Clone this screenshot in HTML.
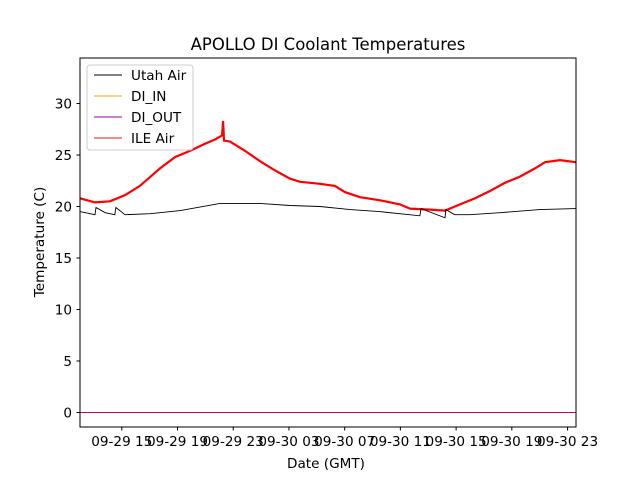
<!DOCTYPE html>
<html><head><meta charset="utf-8"><style>
body{margin:0;background:#fff}
svg{font-family:"DejaVu Sans","Liberation Sans",sans-serif}
</style></head><body>
<svg id="c" width="640" height="480">
<rect width="640" height="480" fill="#fff"/>
<text x="328" y="50" text-anchor="middle" font-size="16.5">APOLLO DI Coolant Temperatures</text>
<g id="plot"></g>
<rect x="80" y="58" width="496" height="369" fill="none" stroke="#000" stroke-width="1"/>
<g id="ticks"></g>
<text x="326" y="468" text-anchor="middle" font-size="13.6">Date (GMT)</text>
<text transform="translate(44,242) rotate(-90)" text-anchor="middle" font-size="13.6">Temperature (C)</text>
<g>
<rect x="87" y="65" width="106" height="85" rx="3" fill="#fff" fill-opacity="0.8" stroke="#ccc"/>
<line x1="94" y1="75" x2="122" y2="75" stroke="#000" stroke-width="1"/>
<text x="131" y="80" font-size="13.6">Utah Air</text>
<line x1="94" y1="96" x2="122" y2="96" stroke="#ffa500" stroke-width="1"/>
<text x="131" y="101" font-size="13.6">DI_IN</text>
<line x1="94" y1="117" x2="122" y2="117" stroke="#9400a0" stroke-width="1"/>
<text x="131" y="122" font-size="13.6">DI_OUT</text>
<line x1="94" y1="138" x2="122" y2="138" stroke="#ee1111" stroke-width="1"/>
<text x="131" y="143" font-size="13.6">ILE Air</text>
</g>
</svg>
<script>
const utahHours=[12.0,13.08,13.15,13.8,14.5,14.58,15.23,17.03,19.2,22.05,23.13,24.9,27.08,29.23,31.4,33.5,36.4,36.48,38.2,38.27,38.9,40.0,42.15,45.0,47.6];
const utahValues=[19.5,19.2,19.9,19.4,19.2,19.9,19.2,19.3,19.6,20.3,20.3,20.3,20.1,20.0,19.7,19.5,19.1,19.8,18.9,19.7,19.2,19.2,19.4,19.7,19.8];
const redHours=[12.0,13.08,14.15,15.23,16.3,17.74,18.82,19.9,20.97,21.7,22.2,22.27,22.34,22.77,23.85,24.92,26.0,27.08,27.8,29.23,30.3,31.02,32.1,33.54,34.97,35.69,37.13,38.2,39.28,40.36,41.43,42.51,43.59,44.66,45.38,46.46,47.6];
const redValues=[20.8,20.4,20.5,21.1,22.0,23.7,24.8,25.4,26.1,26.5,26.9,28.3,26.4,26.3,25.4,24.4,23.5,22.7,22.4,22.2,22.0,21.4,20.9,20.6,20.2,19.8,19.7,19.6,20.2,20.8,21.5,22.3,22.9,23.7,24.3,24.5,24.3];
const zeroHours=[12.0,47.6];
const zeroValues=[0,0];
const yTicks=[0,5,10,15,20,25,30];
const xTickHours=[15,19,23,27,31,35,39,43,47];
const xTickLabels=["09-29 15","09-29 19","09-29 23","09-30 03","09-30 07","09-30 11","09-30 15","09-30 19","09-30 23"];
const NS="http://www.w3.org/2000/svg";
const xS=h=>80+(h-12)*13.93;
const yS=v=>412.5-10.3*v;
const plot=document.getElementById('plot'),ticks=document.getElementById('ticks');
function line(hs,vs,color,w,name){
  const p=document.createElementNS(NS,'polyline');
  p.setAttribute('points',hs.map((h,i)=>xS(h).toFixed(1)+','+yS(vs[i]).toFixed(1)).join(' '));
  p.setAttribute('fill','none');p.setAttribute('stroke',color);p.setAttribute('stroke-width',w);
  
  
  plot.appendChild(p);
}
line(redHours,redValues,'#ff0000',2.2,'ile-air-line');
line(utahHours,utahValues,'#000',0.9,'utah-air-line');
line(zeroHours,zeroValues,'#a8105a',1,'di-out-line');
yTicks.forEach(v=>{
  const y=yS(v);
  const l=document.createElementNS(NS,'line');
  l.setAttribute('x1',76.5);l.setAttribute('x2',80);l.setAttribute('y1',y);l.setAttribute('y2',y);l.setAttribute('stroke','#000');
  
  
  ticks.appendChild(l);
  const t=document.createElementNS(NS,'text');
  t.setAttribute('x',72);t.setAttribute('y',y+5);t.setAttribute('text-anchor','end');t.setAttribute('font-size','13.6');
  t.textContent=v;
  
  
  ticks.appendChild(t);
});
xTickHours.forEach((h,i)=>{
  const x=xS(h);
  const l=document.createElementNS(NS,'line');
  l.setAttribute('x1',x);l.setAttribute('x2',x);l.setAttribute('y1',427);l.setAttribute('y2',430.5);l.setAttribute('stroke','#000');
  
  
  ticks.appendChild(l);
  const t=document.createElementNS(NS,'text');
  t.setAttribute('x',x);t.setAttribute('y',446);t.setAttribute('text-anchor','middle');t.setAttribute('font-size','13.6');
  t.textContent=xTickLabels[i];
  
  
  ticks.appendChild(t);
});
</script>
</body></html>
